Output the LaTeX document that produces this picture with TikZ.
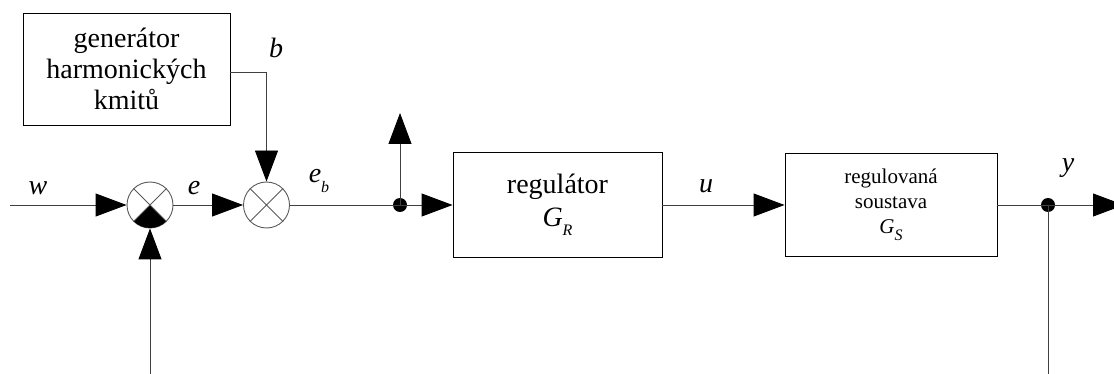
\documentclass[tikz,border=0pt]{standalone}
\usepackage{fontspec}
\setmainfont{Liberation Serif}
\usetikzlibrary{arrows.meta}
\newcommand{\lowsub}[2][9pt]{\raisebox{-#1}{\fontsize{16}{16}\selectfont\itshape #2}}
\begin{document}
\begin{tikzpicture}[x=1pt,y=-1pt,
  conn/.style={draw=black!75, line width=0.9pt},
  arr/.style={conn,-{Triangle[length=31pt,width=23pt,color=black]}},
  blk/.style={draw=black, line width=0.9pt, inner sep=0pt, align=center},
  sumc/.style={circle, draw=black!65, line width=0.9pt, minimum size=46pt, inner sep=0pt},
  jdot/.style={circle, fill=black, minimum size=14pt, inner sep=0pt},
  lab/.style={font=\fontsize{28}{28}\selectfont\itshape, anchor=base, inner sep=0pt},
]
\useasboundingbox (0,0) rectangle (1114,374);

\node[blk, minimum width=207pt, minimum height=112pt, font=\fontsize{28}{31}\selectfont] (gen) at (126.5,69) {generátor\\harmonických\\kmitů};
\node[blk, minimum width=209pt, minimum height=105pt, font=\fontsize{28}{33}\selectfont] (reg) at (557.5,205) {regulátor\\\textit{G}\lowsub{R}};
\node[blk, minimum width=212pt, minimum height=103pt, font=\fontsize{21}{25}\selectfont] (sys) at (891,205) {regulovaná\\soustava\\\textit{G}\lowsub[7pt]{S}};

\node[sumc] (s1) at (150,205) {};
\node[sumc] (s2) at (266.5,205) {};
\begin{scope}
  \clip (s1.center) circle[radius=23pt];
  \fill[black] (s1.center) -- ++(-40,40) -- ++(80,0) -- cycle;
\end{scope}
\draw[draw=black!65, line width=0.9pt] (s1.45) -- (s1.225) (s1.135) -- (s1.315);
\draw[draw=black!65, line width=0.9pt] (s2.45) -- (s2.225) (s2.135) -- (s2.315);

\node[jdot] (j1) at (400,205) {};
\node[jdot] (j2) at (1048,205) {};

\coordinate (win) at (10,205);
\coordinate (fb1) at (150,374);
\coordinate (up) at (400,113);
\coordinate (yout) at (1124,205);
\coordinate (fb2) at (1048,374);

\draw[arr] (win) -- (s1.west);
\draw[arr] (s1.east) -- (s2.west);
\draw[arr] (fb1) -- (s1.south);
\draw[arr] ([yshift=-3pt]gen.east) -| (s2.north);
\draw[conn] (s2.east) -- (j1.center);
\draw[arr] (j1.center) -- (up);
\draw[arr] (j1.center) -- (reg.west);
\draw[arr] (reg.east) -- (sys.west);
\draw[conn] (sys.east) -- (j2.center);
\draw[arr] (j2.center) -- (yout);
\draw[conn] (j2.center) -- (fb2);

\node[lab] (lw) at (38,195) {w};
\node[lab] (le) at (194,195) {e};
\node[lab] (lb) at (276,58) {b};
\node[lab] (leb) at (319,183) {e\lowsub[10pt]{b}};
\node[lab] (lu) at (706,193) {u};
\node[lab] (ly) at (1068,172) {y};
\end{tikzpicture}
\end{document}
